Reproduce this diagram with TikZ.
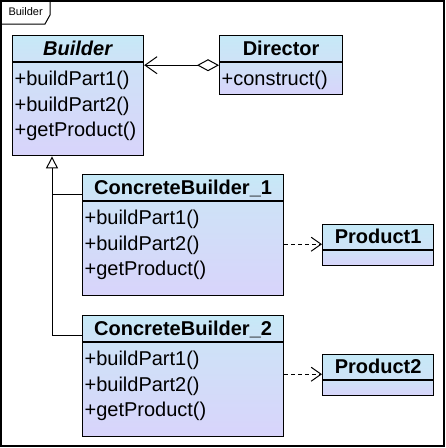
\documentclass[tikz,border=0pt]{standalone}
\usepackage{fontspec}
\setmainfont{Liberation Sans}
\usepackage{tikz}
\usetikzlibrary{positioning}
\usetikzlibrary{arrows.meta}
\definecolor{umltop}{RGB}{198,233,247}
\definecolor{umlmid}{RGB}{206,226,247}
\definecolor{umlbot}{RGB}{216,212,251}
\tikzset{
  classname/.style={draw, line width=1.2pt, top color=umltop, bottom color=umlmid,
    minimum height=26pt, inner sep=0pt, text height=14.5pt, text depth=1pt,
    font=\fontsize{20}{25}\selectfont\bfseries},
  classops/.style={draw, line width=1.2pt, top color=umlmid, bottom color=umlbot,
    inner xsep=2pt, inner ysep=0pt, align=left, text height=23pt,
    font=\fontsize{20}{25.5}\selectfont},
  link/.style={line width=1pt},
  dep/.style={line width=1pt, dash pattern=on 4pt off 3pt,
    -{Straight Barb[length=10pt,width=14pt]}},
}

\begin{document}
\begin{tikzpicture}[x=1pt,y=-1pt]
\useasboundingbox (0,0) rectangle (446,448);
\draw[line width=1.2pt] (1,1) rectangle (444,446);
\draw[line width=1pt] (1,24) -- (45,24) -- (50,15) -- (50,1);
\node[font=\fontsize{11}{13}\selectfont, anchor=west] (framelabel) at (5,12) {Builder};

\node[classname, minimum width=131pt, anchor=north west] (builder) at (12,35) {\textit{Builder}};
\node[classops, text width=127pt, text depth=70pt, below=0pt of builder] (builderops) {+buildPart1()\\+buildPart2()\\+getProduct()};
\node[classname, minimum width=123pt, anchor=north west] (director) at (219,35) {Director};
\node[classops, text width=119pt, text depth=9pt, below=0pt of director] (directorops) {+construct()};
\node[classname, minimum width=201pt, anchor=north west] (cb1) at (82,174) {ConcreteBuilder\_1};
\node[classops, text width=197pt, text depth=71pt, below=0pt of cb1] (cb1ops) {+buildPart1()\\+buildPart2()\\+getProduct()};
\node[classname, minimum width=201pt, anchor=north west] (cb2) at (82,315) {ConcreteBuilder\_2};
\node[classops, text width=197pt, text depth=71pt, below=0pt of cb2] (cb2ops) {+buildPart1()\\+buildPart2()\\+getProduct()};
\node[classname, minimum width=111pt, minimum height=25pt, anchor=north west] (product1) at (322,224) {Product1};
\node[classops, minimum width=111pt, minimum height=15pt, text height=0pt, text depth=0pt, below=0pt of product1] (product1attr) {};
\node[classname, minimum width=111pt, minimum height=25pt, anchor=north west] (product2) at (322,354) {Product2};
\node[classops, minimum width=111pt, minimum height=15pt, text height=0pt, text depth=0pt, below=0pt of product2] (product2attr) {};

\draw[link, {Straight Barb[length=12pt,width=17pt]}-{Diamond[open,length=22pt,width=12pt]}] ([yshift=-3pt]builderops.north east) -- ([yshift=-3pt]directorops.north west);
\coordinate (trunk) at ([xshift=40pt]builderops.south west);
\coordinate (cb1in) at ([yshift=7pt]cb1ops.north west);
\coordinate (cb2in) at ([yshift=7pt]cb2ops.north west);
\draw[link, {Triangle[open,length=12pt,width=12pt]}-] (trunk) -- (trunk |- cb2in) -- (cb2in);
\draw[link] (trunk |- cb1in) -- (cb1in);
\coordinate (p1in) at ([yshift=6pt]product1.south west);
\coordinate (p2in) at ([yshift=6pt]product2.south west);
\draw[dep] (p1in -| cb1ops.east) -- (p1in);
\draw[dep] (p2in -| cb2ops.east) -- (p2in);
\end{tikzpicture}
\end{document}
